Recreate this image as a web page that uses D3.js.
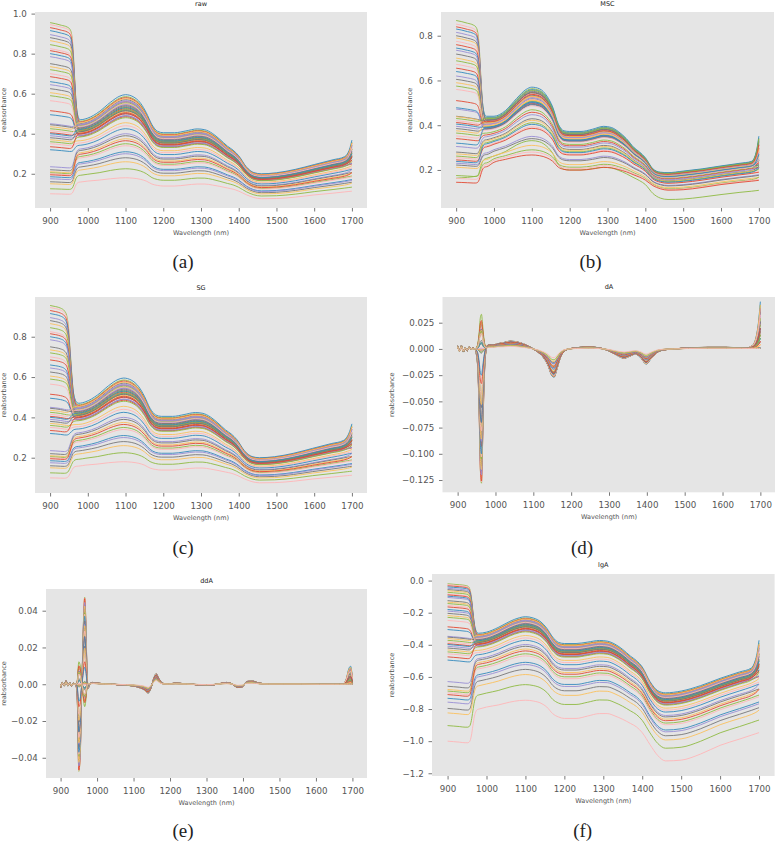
<!DOCTYPE html>
<html>
<head>
<meta charset="utf-8">
<script src="https://cdn.jsdelivr.net/npm/d3@7"></script>
<style>
  body { margin: 0; background: #fff; }
  svg { display: block; }
</style>
</head>
<body>
<svg id="fig" width="775" height="841"></svg>
<script>
// ---------- data ----------
// per-sample readings (51 spectra): level at 900 nm, level at the 1100 nm peak, rise at 1700 nm
const rawStart = [0.955,0.945,0.930,0.915,0.895,0.880,0.865,0.845,0.825,0.815,0.800,0.785,0.750,0.735,0.720,0.700,0.685,0.660,0.645,0.625,0.605,0.590,0.565,0.515,0.495,
  0.450,0.445,0.435,0.425,0.415,0.405,0.400,0.390,0.380,0.370,0.360,0.350,0.335,0.320,
  0.235,0.220,0.210,0.205,0.200,0.195,0.185,0.175,0.160,0.150,0.125,0.100];
const rawPeak = [0.585,0.575,0.560,0.595,0.545,0.570,0.530,0.555,0.540,0.580,0.520,0.565,0.535,0.510,0.550,0.500,0.525,0.490,0.545,0.515,0.505,0.530,0.495,0.485,0.500,
  0.560,0.540,0.575,0.520,0.550,0.505,0.530,0.490,0.515,0.455,0.480,0.440,0.500,0.425,
  0.400,0.390,0.375,0.350,0.340,0.365,0.310,0.300,0.280,0.260,0.225,0.180];
const endRise = [0.065,0.050,0.040,0.070,0.030,0.055,0.020,0.045,0.035,0.060,0.015,0.050,0.030,0.010,0.045,0.005,0.025,0.000,0.040,0.020,0.010,0.035,0.005,0.000,0.015,
  0.060,0.040,0.065,0.020,0.050,0.010,0.030,0.000,0.025,0.005,0.015,0.000,0.030,0.000,
  0.010,0.000,0.005,0.000,0.000,0.010,0.000,0.000,0.000,0.005,0.000,0.000];
// first-derivative value at the ~963 nm water edge
const dASpike = [-0.128,-0.127,-0.126,-0.116,-0.120,-0.112,-0.115,-0.105,-0.103,-0.093,-0.100,-0.088,-0.085,-0.086,-0.074,-0.078,-0.070,-0.070,-0.055,-0.056,-0.053,-0.044,-0.044,-0.033,-0.025,
  -0.002,-0.004,0.005,-0.003,0.005,-0.001,0.005,0.000,0.008,-0.001,0.006,0.001,0.017,0.006,
  0.023,0.025,0.025,0.033,0.020,0.027,0.018,0.019,0.019,0.018,0.017,0.015];
// MSC panel levels
const mscStart = [0.868,0.852,0.840,0.830,0.815,0.800,0.790,0.775,0.760,0.745,0.735,0.718,0.700,0.688,0.672,0.655,0.640,0.620,0.605,0.590,0.575,0.560,0.510,0.478,0.472,
  0.440,0.438,0.430,0.420,0.412,0.405,0.395,0.385,0.375,0.365,0.352,0.340,0.320,0.305,
  0.280,0.272,0.262,0.255,0.245,0.238,0.230,0.222,0.212,0.175,0.162,0.145];
const mscPeak = [0.563,0.556,0.545,0.570,0.534,0.552,0.523,0.541,0.530,0.559,0.516,0.548,0.527,0.509,0.538,0.501,0.519,0.494,0.534,0.512,0.505,0.523,0.498,0.491,0.501,
  0.545,0.530,0.556,0.516,0.538,0.505,0.523,0.494,0.512,0.469,0.487,0.458,0.501,0.447,
  0.429,0.422,0.411,0.393,0.386,0.404,0.350,0.340,0.310,0.290,0.280,0.267];
// lgA panel levels
const lgStart = [-0.020,-0.025,-0.032,-0.039,-0.048,-0.056,-0.063,-0.073,-0.084,-0.089,-0.097,-0.105,-0.125,-0.134,-0.143,-0.155,-0.164,-0.180,-0.190,-0.204,-0.218,-0.229,-0.248,-0.288,-0.305,
  -0.347,-0.352,-0.361,-0.372,-0.382,-0.393,-0.398,-0.409,-0.420,-0.432,-0.444,-0.456,-0.475,-0.495,
  -0.629,-0.658,-0.678,-0.688,-0.699,-0.710,-0.733,-0.757,-0.796,-0.824,-0.903,-1.000];
const lgPeak = [-0.233,-0.240,-0.252,-0.225,-0.264,-0.244,-0.276,-0.256,-0.268,-0.237,-0.284,-0.248,-0.272,-0.292,-0.260,-0.301,-0.280,-0.310,-0.264,-0.288,-0.297,-0.276,-0.305,-0.314,-0.301,
  -0.252,-0.268,-0.240,-0.284,-0.260,-0.297,-0.276,-0.310,-0.288,-0.342,-0.319,-0.357,-0.301,-0.372,
  -0.398,-0.409,-0.426,-0.456,-0.469,-0.438,-0.509,-0.523,-0.553,-0.585,-0.648,-0.745];

// ---------- profiles ----------
const preWl = [900, 915, 930, 945, 952, 957, 961, 965, 969, 973, 977];
const rawPreFrac = [0, 0, 0, 0, 0.01, 0.06, 0.22, 0.52, 0.80, 0.94, 0.99];
const rawPlateau = [1.0, 0.994, 0.986, 0.977, 0.972, 0.968, 0.965, 0.962, 0.960, 0.960, 0.960];
const lgPlateau = [0, -0.003, -0.006, -0.010, -0.012, -0.014, -0.015, -0.017, -0.018, -0.018, -0.018];
const bodyWl = [980, 1000, 1030, 1060, 1085, 1100, 1120, 1140, 1155, 1170, 1185, 1200, 1230, 1260, 1290, 1310,
  1330, 1350, 1370, 1385, 1400, 1420, 1440, 1460, 1500, 1550, 1600, 1650, 1680, 1690, 1695, 1700];
const rawTop = [0.470,0.478,0.510,0.557,0.588,0.595,0.585,0.552,0.505,0.445,0.412,0.405,0.405,0.414,0.424,0.420,
  0.402,0.372,0.338,0.318,0.290,0.235,0.206,0.200,0.205,0.222,0.246,0.270,0.285,0.292,0.295,0.298];
const rawLow = [0.160,0.165,0.170,0.177,0.181,0.182,0.180,0.174,0.165,0.150,0.143,0.140,0.140,0.145,0.150,0.150,
  0.145,0.138,0.130,0.124,0.114,0.096,0.082,0.076,0.077,0.084,0.095,0.104,0.110,0.112,0.113,0.114];
const rawEndShape = [0,0,0,0,0,0,0,0,0,0,0,0,0,0,0,0,0,0,0,0,0,0,0,0,0,0,0,0,0,0.2,0.5,1.0];

const sgPreWl = [900, 915, 928, 938, 944, 949, 953, 957, 961, 966, 971];
const sgPreFrac = [0, 0, 0, 0.01, 0.05, 0.18, 0.40, 0.64, 0.84, 0.95, 0.99];
const sgBodyWl = [976, 995, 1025, 1055, 1080, 1095, 1115, 1135, 1150, 1165, 1180, 1195, 1225, 1255, 1285, 1305,
  1325, 1345, 1365, 1380, 1395, 1415, 1435, 1455, 1495, 1545, 1595, 1645, 1677, 1688, 1694, 1700];

const mscTop = [0.440,0.440,0.465,0.520,0.560,0.570,0.563,0.530,0.482,0.405,0.375,0.372,0.372,0.382,0.395,0.390,
  0.370,0.340,0.300,0.280,0.255,0.205,0.190,0.188,0.195,0.205,0.218,0.230,0.238,0.242,0.244,0.246];
const mscLow = [0.215,0.235,0.248,0.260,0.267,0.268,0.265,0.255,0.240,0.213,0.203,0.200,0.200,0.205,0.212,0.210,
  0.202,0.192,0.178,0.168,0.155,0.130,0.116,0.110,0.112,0.122,0.135,0.145,0.150,0.152,0.153,0.154];
const mscEndShape = [0,0,0,0,0,0,0,0,0,0,0,0,0,0,0,0,0,0,0,0,0,0,0,0,0,0,0,0,0,0.3,0.75,1.5];
const mscOutlierPre = [0.163,0.165,0.167,0.170,0.172,0.175,0.190,0.215,0.235,0.245,0.250];
const mscOutlierBody = [0.252,0.262,0.282,0.312,0.328,0.331,0.326,0.305,0.275,0.225,0.203,0.200,0.200,0.206,0.212,0.209,
  0.198,0.183,0.165,0.152,0.135,0.095,0.074,0.068,0.070,0.079,0.090,0.100,0.105,0.107,0.108,0.109];

const lgTop = [-0.328,-0.321,-0.292,-0.254,-0.231,-0.225,-0.233,-0.258,-0.297,-0.352,-0.385,-0.392,-0.392,-0.383,-0.373,-0.377,
  -0.396,-0.429,-0.471,-0.498,-0.538,-0.629,-0.686,-0.699,-0.688,-0.654,-0.609,-0.569,-0.545,-0.535,-0.530,-0.526];
const lgLow = [-0.796,-0.783,-0.770,-0.752,-0.742,-0.740,-0.745,-0.759,-0.783,-0.824,-0.845,-0.854,-0.854,-0.839,-0.824,-0.824,
  -0.839,-0.860,-0.886,-0.907,-0.943,-1.018,-1.086,-1.119,-1.114,-1.076,-1.022,-0.983,-0.959,-0.951,-0.947,-0.943];
const lgEndShape = [0,0,0,0,0,0,0,0,0,0,0,0,0,0,0,0,0,0,0,0,0,0,0,0,0,0,0,0,0,0.5,1.1,2.2];

// derivative panels
const dWl = [900,905,910,915,920,925,930,935,940,945, 950,954,957,960,963,966,969,972,975,978,
  982,988,995,1005,1020,1040,1060,1080,1100,1115, 1128,1140,1148,1155,1162,1170,1180,1195,1215,1245,
  1275,1300,1320,1340,1355,1370,1385,1398,1410,1425, 1445,1470,1510,1560,1610,1650,1665,1675,1683,1690, 1695,1700];
const dATop = [0.003,-0.002,0.003,-0.003,0.001,-0.002,0.002,0,0.001,0, 0,0,0,0,0,0,0,0.001,0.002,0.003,
  0.004,0.004,0.004,0.005,0.006,0.0075,0.0065,0.004,0,-0.004, -0.009,-0.017,-0.025,-0.027,-0.020,-0.010,-0.003,0,0.0012,0.002,
  0.001,-0.002,-0.006,-0.009,-0.007,-0.005,-0.009,-0.0145,-0.010,-0.004, -0.001,0,0.001,0.0015,0.0015,0.0012,0.001,0.001,0.001,0.001, 0.001,0.001];
const dALow = [0.002,-0.002,0.002,-0.002,0.001,-0.001,0.001,0,0,0, 0,0,0,0,0,0,0,0,0.001,0.001,
  0.0015,0.0015,0.0015,0.002,0.002,0.0025,0.002,0.0012,0,-0.0013, -0.003,-0.0055,-0.008,-0.0085,-0.0065,-0.0033,-0.001,0,0.0004,0.0007,
  0.0003,-0.0006,-0.002,-0.003,-0.0023,-0.0017,-0.003,-0.005,-0.0033,-0.0013, -0.0003,0,0.0004,0.0006,0.0006,0.0005,0.0004,0.0004,0.0004,0.0004, 0.0004,0.0004];
const dASpikeShape = [0,0,0,0,0,0,0,0,0,0, 0.05,0.2,0.5,0.9,1.0,0.7,0.35,0.12,0.03,0,
  0,0,0,0,0,0,0,0,0,0, 0,0,0,0,0,0,0,0,0,0, 0,0,0,0,0,0,0,0,0,0, 0,0,0,0,0,0,0,0,0,0, 0,0];
const dAEndShape = [0,0,0,0,0,0,0,0,0,0, 0,0,0,0,0,0,0,0,0,0, 0,0,0,0,0,0,0,0,0,0,
  0,0,0,0,0,0,0,0,0,0, 0,0,0,0,0,0,0,0,0,0, 0,0,0,0,0,0,0,0.02,0.06,0.18, 0.35,0.63];
const ddATop = [-0.002,0.001,-0.001,0.002,-0.001,0.001,-0.001,0.0005,0,0, 0,0,0,0,0,0,0,0,0,0,
  0.0005,0.001,0.0008,0.0005,0.0003,0,-0.0003,-0.0006,-0.001,-0.0018, -0.003,-0.0048,-0.002,0.003,0.0058,0.003,0.0005,0.0002,0.0006,0.0002,
  -0.0003,-0.0006,-0.0003,0.0005,0.001,0.0002,-0.0018,-0.0015,0.0015,0.0018, 0.0006,0.0002,0.0003,0.0002,0.0001,0,0,0,0,0, 0,0];
const ddALow = [-0.001,0.0005,-0.0005,0.001,-0.0005,0.0005,-0.0005,0,0,0, 0,0,0,0,0,0,0,0,0,0,
  0.0002,0.0004,0.0003,0.0002,0.0001,0,-0.0001,-0.0002,-0.0004,-0.0006, -0.001,-0.0017,-0.0007,0.001,0.002,0.001,0.0002,0.0001,0.0002,0.0001,
  -0.0001,-0.0002,-0.0001,0.0002,0.0003,0.0001,-0.0006,-0.0005,0.0005,0.0006, 0.0002,0.0001,0.0001,0.0001,0,0,0,0,0,0, 0,0];
const ddASpikeShape = [0,0,0,0,0,0,0,0,0,0.03, 0.37,0.30,0.08,-0.10,-0.28,-0.37,-0.28,-0.08,0.02,0.01,
  0,0,0,0,0,0,0,0,0,0, 0,0,0,0,0,0,0,0,0,0, 0,0,0,0,0,0,0,0,0,0, 0,0,0,0,0,0,0,0,0,0, 0,0];
const ddAEndShape = [0,0,0,0,0,0,0,0,0,0, 0,0,0,0,0,0,0,0,0,0, 0,0,0,0,0,0,0,0,0,0,
  0,0,0,0,0,0,0,0,0,0, 0,0,0,0,0,0,0,0,0,0, 0,0,0,0,0,0,0,0.005,0.04,0.12, 0.14,0.05];

const xTicks = [900, 1000, 1100, 1200, 1300, 1400, 1500, 1600, 1700];
const PAL = ["#E24A33", "#348ABD", "#988ED5", "#777777", "#FBC15E", "#8EBA42", "#FFB5B8"];
const COLOR_OFFSET = 5;
const FONT = "'DejaVu Sans', 'Liberation Sans', sans-serif";

// ---------- helpers ----------
const PK = 5; // index of 1100 nm in the body grid

function spectrum(start, peak, end, o) {
  const w = (peak - o.low[PK]) / (o.top[PK] - o.low[PK]);
  const body = o.bodyWl.map((x, k) => [x, o.low[k] + w * (o.top[k] - o.low[k]) + end * o.endShape[k]]);
  const b0 = body[0][1];
  const pre = o.preWl.map((x, k) => {
    const lev = o.log ? start + o.plateau[k] : start * o.plateau[k];
    return [x, (1 - o.frac[k]) * lev + o.frac[k] * b0];
  });
  return pre.concat(body);
}

function deriv(peak, spike, end, o) {
  const w = (peak - rawLow[PK]) / (rawTop[PK] - rawLow[PK]);
  return dWl.map((x, k) => [x, o.low[k] + w * (o.top[k] - o.low[k]) + spike * o.spike[k] + end * o.end[k]]);
}

const rawOpt = { preWl, frac: rawPreFrac, plateau: rawPlateau, bodyWl, top: rawTop, low: rawLow, endShape: rawEndShape };
const sgOpt = { preWl: sgPreWl, frac: sgPreFrac, plateau: rawPlateau, bodyWl: sgBodyWl, top: rawTop, low: rawLow, endShape: rawEndShape };
const mscOpt = { preWl, frac: rawPreFrac, plateau: rawPlateau, bodyWl, top: mscTop, low: mscLow, endShape: mscEndShape };
const lgOpt = { preWl, frac: rawPreFrac, plateau: lgPlateau, bodyWl, top: lgTop, low: lgLow, endShape: lgEndShape, log: true };
const dAOpt = { top: dATop, low: dALow, spike: dASpikeShape, end: dAEndShape };
const ddAOpt = { top: ddATop, low: ddALow, spike: ddASpikeShape, end: ddAEndShape };

const idx = d3.range(rawStart.length);
const rawCurves = idx.map(i => spectrum(rawStart[i], rawPeak[i], endRise[i], rawOpt));
const sgCurves = idx.map(i => spectrum(rawStart[i], rawPeak[i], endRise[i], sgOpt));
const mscCurves = idx.map(i => spectrum(mscStart[i], mscPeak[i], endRise[i], mscOpt));
// the lone green MSC spectrum sits at index 7 so it picks up the green of the cycle
mscCurves.splice(7, 0, preWl.map((x, k) => [x, mscOutlierPre[k]]).concat(bodyWl.map((x, k) => [x, mscOutlierBody[k]])));
const lgCurves = idx.map(i => spectrum(lgStart[i], lgPeak[i], endRise[i], lgOpt));
const dACurves = idx.map(i => deriv(rawPeak[i], dASpike[i], endRise[i], dAOpt));
const ddACurves = idx.map(i => deriv(rawPeak[i], dASpike[i], endRise[i], ddAOpt));

// ---------- drawing ----------
const svg = d3.select("#fig");

function panel(p) {
  const g = svg.append("g");
  const x = d3.scaleLinear().domain([860, 1740]).range([p.l, p.r]);
  const y = d3.scaleLinear().domain(p.yDomain).range([p.b, p.t]);

  g.append("rect")
    .attr("x", p.l).attr("y", p.t)
    .attr("width", p.r - p.l).attr("height", p.b - p.t)
    .attr("fill", "#E5E5E5");

  const line = d3.line().x(d => x(d[0])).y(d => y(d[1])).curve(d3.curveMonotoneX);
  g.append("g").selectAll("path")
    .data(p.curves)
    .join("path")
    .attr("d", d => line(d))
    .attr("fill", "none")
    .attr("stroke", (d, i) => PAL[(i + COLOR_OFFSET) % PAL.length])
    .attr("stroke-width", 0.9);

  const xa = g.append("g").attr("transform", `translate(0,${p.b})`)
    .call(d3.axisBottom(x).tickValues(xTicks).tickFormat(d3.format("d")).tickSize(3.5).tickPadding(6.3));
  const ya = g.append("g").attr("transform", `translate(${p.l},0)`)
    .call(d3.axisLeft(y).tickValues(p.yTicks).tickFormat(d3.format(p.fmt)).tickSize(3.5).tickPadding(4.8));
  [xa, ya].forEach(a => {
    a.select(".domain").remove();
    a.attr("font-family", null).attr("font-size", null);
    a.selectAll("line").attr("stroke", "#555").attr("stroke-width", 0.8);
    a.selectAll("text").attr("fill", "#555").style("font-family", FONT).style("font-size", "8.7px");
  });

  // title
  g.append("text")
    .attr("x", (p.l + p.r) / 2).attr("y", p.titleY)
    .attr("text-anchor", "middle")
    .style("font-family", FONT).style("font-size", "6.5px").attr("fill", "#222")
    .text(p.title);

  // axis labels
  g.append("text")
    .attr("x", (p.l + p.r) / 2).attr("y", p.b + 27)
    .attr("text-anchor", "middle")
    .style("font-family", FONT).style("font-size", "6.5px").attr("fill", "#555")
    .text("Wavelength (nm)");
  g.append("text")
    .attr("transform", `translate(${p.ylabX + 2.3},${(p.t + p.b) / 2}) rotate(-90)`)
    .attr("text-anchor", "middle")
    .style("font-family", FONT).style("font-size", "6.5px").attr("fill", "#555")
    .text("reabsorbance");

  // caption
  g.append("text")
    .attr("x", p.capX).attr("y", p.capY + 5)
    .attr("text-anchor", "middle")
    .style("font-family", "'Liberation Serif', 'DejaVu Serif', serif").style("font-size", "19px").attr("fill", "#222")
    .text(p.caption);
}

panel({ l: 35, r: 367, t: 12, b: 208, yDomain: [0.029, 1.008], yTicks: [0.2, 0.4, 0.6, 0.8, 1.0], fmt: ".1f",
  title: "raw", titleY: 5.5, ylabX: 4, caption: "(a)", capX: 183, capY: 263, curves: rawCurves });
panel({ l: 441, r: 774, t: 12, b: 208, yDomain: [0.03, 0.906], yTicks: [0.2, 0.4, 0.6, 0.8], fmt: ".1f",
  title: "MSC", titleY: 5.5, ylabX: 410, caption: "(b)", capX: 590.5, capY: 263, curves: mscCurves });
panel({ l: 35, r: 367, t: 297, b: 493, yDomain: [0.025, 0.997], yTicks: [0.2, 0.4, 0.6, 0.8], fmt: ".1f",
  title: "SG", titleY: 289.5, ylabX: 4, caption: "(c)", capX: 183, capY: 548.5, curves: sgCurves });
panel({ l: 442.5, r: 775.5, t: 297, b: 492.3, yDomain: [-0.1367, 0.0495],
  yTicks: [-0.125, -0.1, -0.075, -0.05, -0.025, 0, 0.025], fmt: ".3f",
  title: "dA", titleY: 288.5, ylabX: 392, caption: "(d)", capX: 582, capY: 548.5, curves: dACurves });
panel({ l: 46, r: 367, t: 589, b: 778, yDomain: [-0.051, 0.0518], yTicks: [-0.04, -0.02, 0, 0.02, 0.04], fmt: ".2f",
  title: "ddA", titleY: 582.5, ylabX: 3.5, caption: "(e)", capX: 183, capY: 832, curves: ddACurves });
panel({ l: 432, r: 774.6, t: 574, b: 776, yDomain: [-1.217, 0.041], yTicks: [-1.2, -1.0, -0.8, -0.6, -0.4, -0.2, 0.0], fmt: ".1f",
  title: "lgA", titleY: 566.5, ylabX: 392, caption: "(f)", capX: 582.7, capY: 832, curves: lgCurves });
</script>
</body>
</html>
